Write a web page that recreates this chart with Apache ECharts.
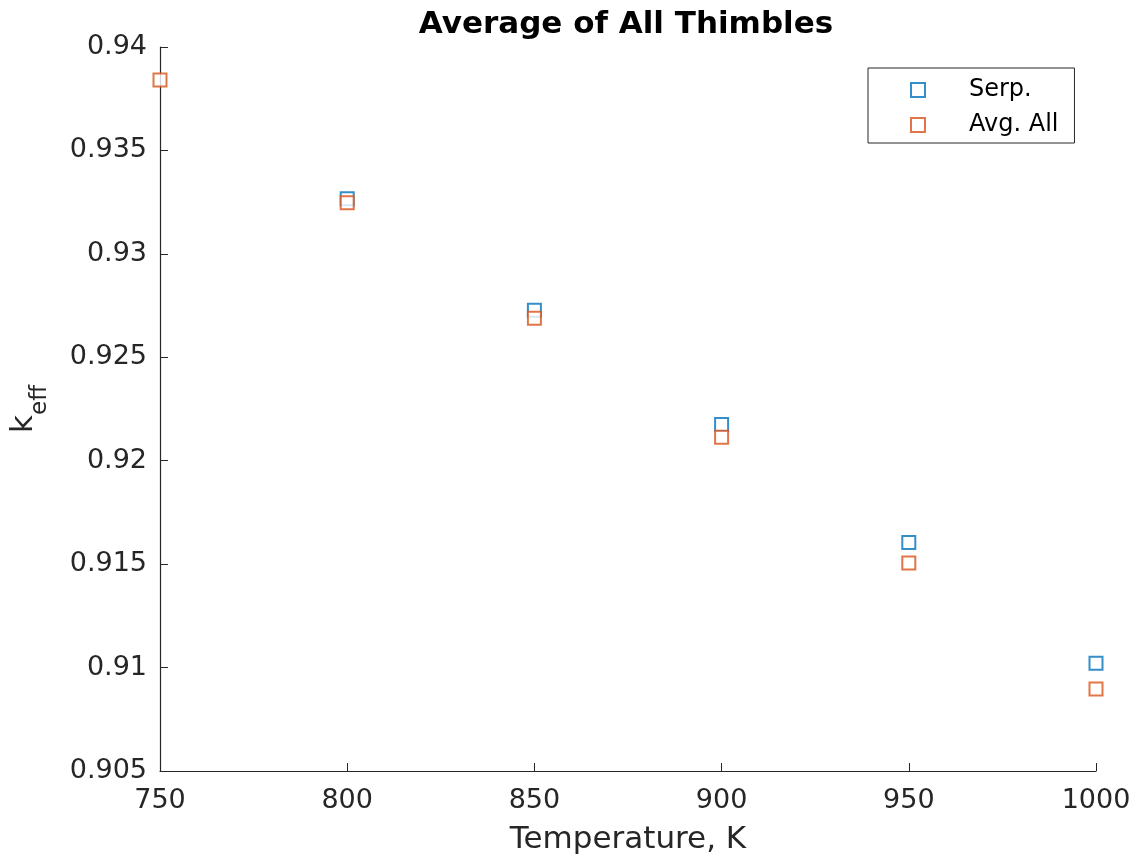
<!DOCTYPE html>
<html>
<head>
<meta charset="utf-8">
<style>
  html, body { margin: 0; padding: 0; background: #ffffff; }
  #chart { width: 1136px; height: 860px; }
</style>
<script src="https://cdn.jsdelivr.net/npm/echarts@6/dist/echarts.min.js"></script>
</head>
<body>
<div id="chart"></div>
<script>
// Temperatures (K) at which k_eff was evaluated
const temperatures = [750, 800, 850, 900, 950, 1000];
// Serpent reference k_eff (no value at 750 K)
const serpKeff = [null, 0.93266, 0.92727, 0.92175, 0.91605, 0.91021];
// Average of all thimbles k_eff
const avgAllKeff = [0.93841, 0.93247, 0.92689, 0.92113, 0.91505, 0.90897];
const xTicks = [750, 800, 850, 900, 950, 1000];
const yTicks = [0.905, 0.91, 0.915, 0.92, 0.925, 0.93, 0.935, 0.94];

const FONT = 'DejaVu Sans';
const AXIS_COLOR = '#262626';
const BLUE = '#0072BD';
const ORANGE = '#D95319';

function pairs(xs, ys) {
  const out = [];
  xs.forEach((x, i) => { if (ys[i] !== null) out.push([x, ys[i]]); });
  return out;
}

const chart = echarts.init(document.getElementById('chart'), null, { renderer: 'canvas' });

const markerStyle = (c) => ({ color: '#ffffff', borderColor: c, borderWidth: 2 });

chart.setOption({
  animation: false,
  backgroundColor: '#ffffff',
  textStyle: { fontFamily: FONT },
  title: {
    text: 'Average of All Thimbles',
    left: 621, top: 4, textAlign: 'center',
    textStyle: { fontFamily: FONT, fontWeight: 'bold', fontSize: 31, color: '#000000' }
  },
  grid: { left: 157, right: 40, top: 47, bottom: 86, containLabel: false },
  legend: {
    orient: 'vertical',
    left: 868, top: 68,
    padding: [10, 16, 6, 42],
    itemGap: 11,
    itemWidth: 14, itemHeight: 14,
    borderColor: '#262626', borderWidth: 1,
    backgroundColor: '#ffffff',
    textStyle: { fontFamily: FONT, fontSize: 24, color: '#000000', lineHeight: 22, padding: [0, 0, 0, 39] },
    data: ['Serp.', 'Avg. All']
  },
  xAxis: {
    type: 'value',
    min: 750, max: 1000, interval: 50,
    name: 'Temperature, K',
    nameLocation: 'middle', nameGap: 53,
    nameTextStyle: { fontFamily: FONT, fontSize: 31, color: '#262626' },
    axisLine: { show: true, onZero: false, lineStyle: { color: AXIS_COLOR, width: 1.2 } },
    axisTick: { show: true, inside: true, length: 8, lineStyle: { color: AXIS_COLOR } },
    axisLabel: {
      fontFamily: FONT, fontSize: 27, color: '#262626', margin: 16,
      formatter: (v) => xTicks.includes(v) ? String(v) : ''
    },
    splitLine: { show: false }
  },
  yAxis: {
    type: 'value',
    min: 0.905, max: 0.94, interval: 0.005,
    name: '{k|k}{s|eff}',
    nameLocation: 'middle', nameGap: 108, nameRotate: 90,
    nameTextStyle: {
      fontFamily: FONT, color: '#262626',
      rich: {
        k: { fontFamily: FONT, fontSize: 31, color: '#262626', lineHeight: 44, verticalAlign: 'top' },
        s: { fontFamily: FONT, fontSize: 23, color: '#262626', lineHeight: 24, verticalAlign: 'bottom' }
      }
    },
    axisLine: { show: true, onZero: false, lineStyle: { color: AXIS_COLOR, width: 1.2 } },
    axisTick: { show: true, inside: true, length: 8, lineStyle: { color: AXIS_COLOR } },
    axisLabel: {
      fontFamily: FONT, fontSize: 27, color: '#262626', margin: 13,
      formatter: (v) => {
        const t = yTicks.find((y) => Math.abs(y - v) < 1e-9);
        return t === undefined ? '' : String(parseFloat(t.toFixed(3)));
      }
    },
    splitLine: { show: false }
  },
  series: [
    {
      name: 'Serp.', type: 'scatter',
      symbol: 'rect', symbolSize: 13,
      itemStyle: markerStyle(BLUE),
      data: pairs(temperatures, serpKeff)
    },
    {
      name: 'Avg. All', type: 'scatter',
      symbol: 'rect', symbolSize: 13,
      itemStyle: markerStyle(ORANGE),
      data: pairs(temperatures, avgAllKeff)
    }
  ]
});
</script>
</body>
</html>
